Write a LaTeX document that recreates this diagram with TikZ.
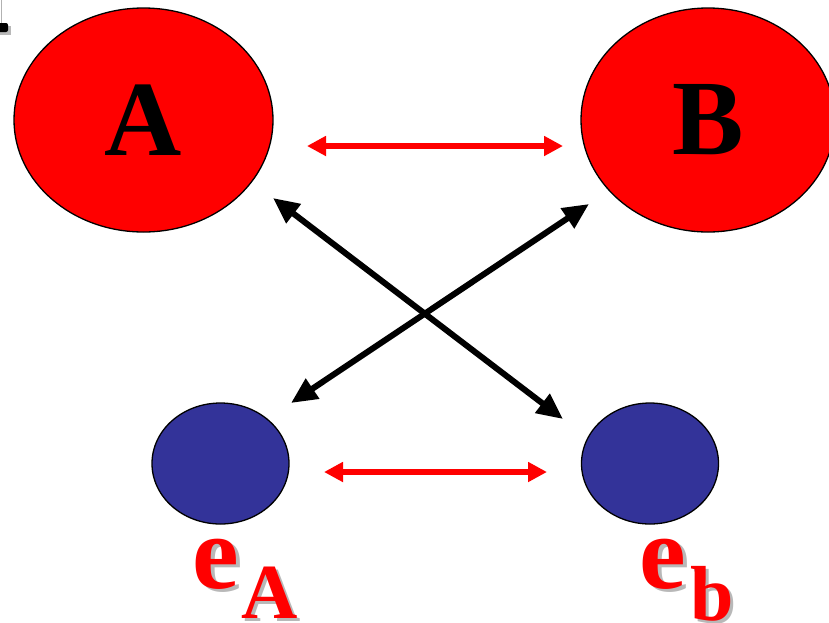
\documentclass[tikz,border=0pt]{standalone}
\usepackage{fontspec}
\setmainfont{Liberation Serif}
\usetikzlibrary{shapes.geometric,arrows.meta}
\definecolor{eblue}{HTML}{333399}
\definecolor{shadowgray}{HTML}{B8B8B8}
\tikzset{
  bigoval/.style={ellipse, draw=black, line width=1.3pt, fill=red, minimum width=259pt, minimum height=224pt, inner sep=0pt,
    font=\bfseries\fontsize{107}{107}\selectfont, text=black},
  smalloval/.style={ellipse, draw=black, line width=1.3pt, fill=eblue, minimum width=137pt, minimum height=121pt, inner sep=0pt},
  redarrow/.style={draw=red, line width=5.5pt, {Triangle[length=19pt,width=19pt]}-{Triangle[length=19pt,width=19pt]}},
  blackarrow/.style={draw=black, line width=6pt, {Triangle[length=26pt,width=23pt]}-{Triangle[length=26pt,width=23pt]}},
  elabel/.style={anchor=base west, inner sep=0pt, text=red, font=\bfseries\fontsize{105}{105}\selectfont},
  sublabel/.style={anchor=base west, inner sep=0pt, text=red, font=\bfseries\fontsize{78}{78}\selectfont},
  shadowtext/.style={text=shadowgray}
}
\begin{document}
\begin{tikzpicture}[x=1pt,y=-1pt]
\useasboundingbox (0,0) rectangle (829,622);
\begin{scope}
\clip (0,0) rectangle (829,622);
% corner mark
\fill[shadowgray] (-5,26) rectangle (11,35);
\fill[black, rounded corners=2pt] (-5,23) rectangle (8,32);
\draw[gray!60, line width=0.8pt] (1,0) -- (1,23);
% ovals
\node[bigoval] (A) at (143.5,120) {A};
\node[bigoval, minimum width=254pt] (B) at (708,120) {B};
\node[smalloval] (eA) at (220.5,463.5) {};
\node[smalloval] (eb) at (650,463.5) {};
% labels with shadow
\node[elabel, shadowtext] (eAshad) at (196,591) {e};
\node[sublabel, shadowtext] (Ashad) at (244,621) {A};
\node[elabel] (eAlab) at (192,588) {e};
\node[sublabel] (Alab) at (241,618) {A};
\node[elabel, shadowtext] (ebshad) at (643,591) {e};
\node[sublabel, shadowtext] (bshad) at (693,623) {b};
\node[elabel] (eblab) at (639,588) {e};
\node[sublabel] (blab) at (690,620) {b};
% arrow end points
\coordinate (ab1) at (307,146);
\coordinate (ab2) at (563,146);
\coordinate (ee1) at (324,472);
\coordinate (ee2) at (547,472);
\coordinate (x1a) at (273,198);
\coordinate (x1b) at (563,419);
\coordinate (x2a) at (291,403);
\coordinate (x2b) at (589,204);
% connectors
\draw[redarrow] (ab1) -- (ab2);
\draw[redarrow] (ee1) -- (ee2);
\draw[blackarrow] (x1a) -- (x1b);
\draw[blackarrow] (x2a) -- (x2b);
\end{scope}
\end{tikzpicture}
\end{document}
